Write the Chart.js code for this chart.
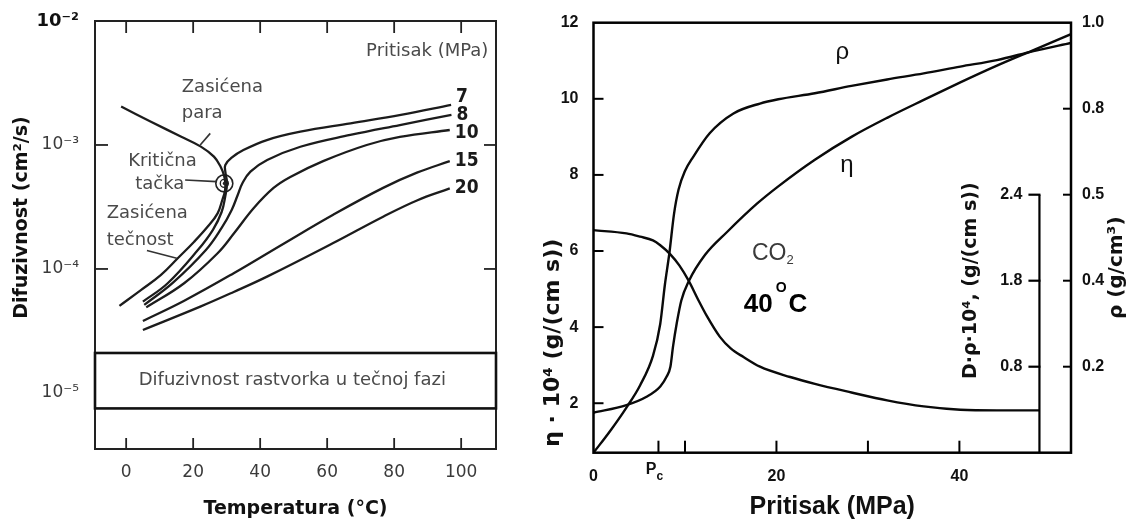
<!DOCTYPE html>
<html><head><meta charset="utf-8">
<title>Difuzivnost</title>
<script src="https://cdn.jsdelivr.net/npm/chart.js@4/dist/chart.umd.min.js"></script>
<style>
html,body{margin:0;padding:0;background:#fff;}
body{width:1130px;height:525px;position:relative;overflow:hidden;}
canvas{position:absolute;top:0;}
#left{left:0;}
#right{left:535px;}
</style></head>
<body>
<canvas id="left" width="530" height="525"></canvas>
<canvas id="right" width="595" height="525"></canvas>
<script>
// ================= LEFT PANEL DATA =================
const T_TICKS = [0, 20, 40, 60, 80, 100];
const D_TICKS = [1e-5, 1e-4, 1e-3, 1e-2];
const D_TICK_LABELS = ['10⁻⁵', '10⁻⁴', '10⁻³', '10⁻²'];
const D_INNER_TICKS = [1e-4, 1e-3];

// saturation curve (vapour branch -> critical point -> liquid branch)
const SAT_T = [-1.5, 7.4, 16.3, 22.3, 26.2, 28.2, 29.2, 29.6, 29.5, 28.7, 27.3, 24.3, 20.3, 15.4, 10.4, 4.5, -2.0];
const SAT_D = [2.04e-3, 1.54e-3, 1.17e-3, 9.7e-4, 8.05e-4, 6.68e-4, 5.7e-4, 4.9e-4, 4.25e-4, 3.6e-4, 2.81e-4, 2.19e-4, 1.66e-4, 1.22e-4, 8.95e-5, 6.78e-5, 5.04e-5];

// isobars (MPa)
const P7_T  = [5.0, 12.4, 21.4, 25.9, 28.5, 29.6, 30.1, 29.6, 29.6, 31.5, 35.0, 42.0, 52.0, 67.0, 82.0, 97.0];
const P7_D  = [5.45e-5, 7.67e-5, 1.42e-4, 2.07e-4, 2.88e-4, 3.88e-4, 4.94e-4, 6.1e-4, 6.9e-4, 7.9e-4, 9.1e-4, 1.096e-3, 1.279e-3, 1.496e-3, 1.746e-3, 2.104e-3];
const P8_T  = [5.4, 13.9, 23.8, 28.5, 31.5, 33.3, 34.7, 37.1, 42.1, 52.0, 66.9, 81.7, 97.1];
const P8_D  = [5.13e-5, 7.71e-5, 1.42e-4, 2.14e-4, 2.99e-4, 3.95e-4, 4.91e-4, 6.10e-4, 7.57e-4, 9.68e-4, 1.205e-3, 1.449e-3, 1.746e-3];
const P10_T = [6.0, 17.3, 27.3, 32.2, 38.1, 44.0, 49.0, 58.8, 71.8, 81.7, 96.6];
const P10_D = [4.9e-5, 7.67e-5, 1.34e-4, 1.94e-4, 3.10e-4, 4.50e-4, 5.52e-4, 7.41e-4, 1.0e-3, 1.161e-3, 1.321e-3];
const P15_T = [5.0, 17.2, 32.1, 47.0, 61.8, 76.7, 86.8, 96.6];
const P15_D = [3.81e-5, 5.52e-5, 9.24e-5, 1.60e-4, 2.74e-4, 4.51e-4, 5.98e-4, 7.41e-4];
const P20_T = [5.0, 22.3, 32.1, 42.2, 61.8, 76.7, 86.8, 96.6];
const P20_D = [3.22e-5, 4.99e-5, 6.52e-5, 8.71e-5, 1.618e-4, 2.64e-4, 3.57e-4, 4.46e-4];
const ISOBAR_LABELS = ['7', '8', '10', '15', '20'];

const CRIT_T = 29.3, CRIT_D = 4.9e-4;          // critical point
const LIQ_BAND = [7.5e-6, 2.1e-5];              // solute diffusivity in liquid phase

// ================= RIGHT PANEL DATA =================
const P_TICKS = [0, 20, 40];
const P_TICK_LABELS = ['0', '20', '40'];
const P_MINOR_TICKS = [7.1, 10, 20, 30, 40];
const PC = 7.1;
const ETA_TICKS = [2, 4, 6, 8, 10, 12];
const ETA_INNER_TICKS = [2, 4, 6, 8, 10];
const RHO_TICKS = [0.2, 0.4, 0.6, 0.8, 1.0];
const RHO_TICK_LABELS = ['0.2', '0.4', '0.5', '0.8', '1.0'];
const RHO_INNER_TICKS = [0.2, 0.4, 0.6, 0.8];
const DRHO_TICKS = [0.8, 1.6, 2.4];
const DRHO_TICK_LABELS = ['0.8', '1.8', '2.4'];
const DRHO_AXIS_P = 48.75;

const RHO_P = [0, 1.8, 3.6, 5.1, 6.5, 7.3, 7.8, 8.3, 8.8, 9.3, 10.0, 10.9, 12.7, 15.3, 18.2, 20.2, 24.2, 28.2, 32.1, 36.1, 40.1, 44.1, 48.1, 52.2];
const RHO_V = [0.0, 0.05, 0.105, 0.157, 0.225, 0.300, 0.390, 0.465, 0.555, 0.612, 0.655, 0.688, 0.743, 0.789, 0.812, 0.822, 0.836, 0.853, 0.868, 0.882, 0.898, 0.913, 0.934, 0.953];
const ETA_P = [0, 3.6, 5.8, 7.3, 8.0, 8.4, 8.7, 9.1, 9.6, 10.4, 12.2, 14.6, 17.9, 20.2, 24.2, 28.2, 32.1, 36.1, 40.1, 44.1, 48.1, 52.2];
const ETA_V = [1.75, 1.95, 2.17, 2.44, 2.70, 2.95, 3.5, 4.1, 4.7, 5.2, 5.9, 6.5, 7.25, 7.7, 8.4, 9.0, 9.5, 9.97, 10.43, 10.87, 11.28, 11.70];
const DRHO_P = [0, 3.6, 5.1, 6.5, 7.3, 8.4, 9.4, 10.4, 11.4, 12.4, 13.8, 15.0, 16.4, 18.2, 21.5, 24.2, 28.2, 32.1, 36.1, 40.1, 44.1, 48.75];
const DRHO_V = [2.07, 2.04, 2.01, 1.975, 1.93, 1.845, 1.74, 1.60, 1.43, 1.27, 1.08, 0.97, 0.89, 0.80, 0.704, 0.64, 0.56, 0.487, 0.431, 0.40, 0.394, 0.394];

// ================= helpers / styles =================
const mk = (xs, ys) => xs.map((x, i) => ({x: x, y: ys[i]}));
function seg(ctx, x1, y1, x2, y2) { ctx.beginPath(); ctx.moveTo(x1, y1); ctx.lineTo(x2, y2); ctx.stroke(); }
function txt(ctx, s, x, y, font, color, align, base) {
  ctx.font = font; ctx.fillStyle = color; ctx.textAlign = align || 'left'; ctx.textBaseline = base || 'middle';
  ctx.fillText(s, x, y);
}
function rtxt(ctx, s, x, y, font, color, align) {
  ctx.save(); ctx.translate(x, y); ctx.rotate(-Math.PI / 2);
  txt(ctx, s, 0, 0, font, color, align || 'center', 'middle');
  ctx.restore();
}

const ISOBARS = [[P7_T, P7_D], [P8_T, P8_D], [P10_T, P10_D], [P15_T, P15_D], [P20_T, P20_D]];
const ISOBAR_LABEL_DY = [-8, 0, 3, 0, 0];

const LEFT_NOTES = [
  {text: 'Pritisak (MPa)', x: 108.1, y: 5.66e-3, align: 'right'},
  {text: 'Zasićena', x: 16.6, y: 2.92e-3, align: 'left'},
  {text: 'para', x: 16.6, y: 1.80e-3, align: 'left'},
  {text: 'Kritična', x: 0.6, y: 7.33e-4, align: 'left'},
  {text: 'tačka', x: 2.7, y: 4.84e-4, align: 'left'},
  {text: 'Zasićena', x: -5.8, y: 2.81e-4, align: 'left'},
  {text: 'tečnost', x: -5.8, y: 1.71e-4, align: 'left'}
];
const LEFT_LEADERS = [
  [17.6, 5.22e-4, 27.0, 5.06e-4],
  [22.1, 1.0e-3, 25.1, 1.24e-3],
  [6.2, 1.41e-4, 15.1, 1.22e-4]
];

const leftDeco = {
  id: 'leftDeco',
  afterDraw(chart) {
    const ctx = chart.ctx, a = chart.chartArea, xs = chart.scales.x, ys = chart.scales.y;
    ctx.save();
    ctx.strokeStyle = '#222'; ctx.lineWidth = 2;
    ctx.strokeRect(a.left, a.top, a.right - a.left, a.bottom - a.top);
    ctx.lineWidth = 1.8;
    T_TICKS.forEach(v => { const p = xs.getPixelForValue(v); seg(ctx, p, a.bottom, p, a.bottom - 11); seg(ctx, p, a.top, p, a.top + 12); });
    D_INNER_TICKS.forEach(v => { const p = ys.getPixelForValue(v); seg(ctx, a.left, p, a.left + 13, p); seg(ctx, a.right, p, a.right - 12, p); });
    // liquid-phase band
    const b1 = ys.getPixelForValue(LIQ_BAND[1]), b2 = ys.getPixelForValue(LIQ_BAND[0]);
    ctx.strokeStyle = '#111'; ctx.lineWidth = 2.6;
    ctx.strokeRect(a.left, b1, a.right - a.left, b2 - b1);
    txt(ctx, 'Difuzivnost rastvorka u tečnoj fazi', xs.getPixelForValue(49.6), (b1 + b2) / 2, '18px "DejaVu Sans"', '#4a4a4a', 'center');
    // critical point inner ring
    const cx = xs.getPixelForValue(CRIT_T), cy = ys.getPixelForValue(CRIT_D);
    ctx.strokeStyle = '#222'; ctx.lineWidth = 1.4;
    ctx.beginPath(); ctx.arc(cx, cy, 4, 0, Math.PI * 2); ctx.stroke();
    ctx.fillStyle = '#222'; ctx.beginPath(); ctx.arc(cx, cy, 1.6, 0, Math.PI * 2); ctx.fill();
    // notes
    LEFT_NOTES.forEach(n => txt(ctx, n.text, xs.getPixelForValue(n.x), ys.getPixelForValue(n.y), '18px "DejaVu Sans"', '#4a4a4a', n.align));
    ctx.strokeStyle = '#333'; ctx.lineWidth = 1.6;
    LEFT_LEADERS.forEach(l => seg(ctx, xs.getPixelForValue(l[0]), ys.getPixelForValue(l[1]), xs.getPixelForValue(l[2]), ys.getPixelForValue(l[3])));
    // isobar labels
    ISOBARS.forEach((s, i) => {
      const n = s[0].length - 1;
      txt(ctx, ISOBAR_LABELS[i], xs.getPixelForValue(s[0][n]) + 5, ys.getPixelForValue(s[1][n]) + ISOBAR_LABEL_DY[i],
          'bold 19px "DejaVu Sans Condensed", "DejaVu Sans"', '#1a1a1a', 'left');
    });
    // y title
    rtxt(ctx, 'Difuzivnost (cm²/s)', a.left - 73, ys.getPixelForValue(2.6e-4), 'bold 19px "DejaVu Sans"', '#111');
    ctx.restore();
  }
};

const lStyle = {showLine: true, pointRadius: 0, borderColor: '#1c1c1c', borderWidth: 2.3, fill: false, tension: 0.4};

new Chart(document.getElementById('left'), {
  type: 'scatter',
  data: {
    datasets: [
      Object.assign({data: mk(SAT_T, SAT_D)}, lStyle),
      ...ISOBARS.map(s => Object.assign({data: mk(s[0], s[1])}, lStyle)),
      {data: [{x: CRIT_T, y: CRIT_D}], showLine: false, pointRadius: 8.5, pointBorderWidth: 1.6,
       pointBorderColor: '#222', pointBackgroundColor: 'rgba(0,0,0,0)'}
    ]
  },
  options: {
    responsive: false, animation: false, devicePixelRatio: 1, events: [],
    layout: {padding: {left: 0, right: 34, top: 21, bottom: 0}},
    plugins: {legend: {display: false}, tooltip: {enabled: false}},
    scales: {
      x: {
        type: 'linear', min: -9.3, max: 110.4,
        grid: {display: false}, border: {display: false},
        afterBuildTicks: s => { s.ticks = T_TICKS.map(v => ({value: v})); },
        afterFit: s => { s.height = 76; },
        ticks: {padding: 5, autoSkip: false, maxRotation: 0, font: {family: 'DejaVu Sans', size: 17}, color: '#3a3a3a',
                callback: v => String(v)},
        title: {display: true, text: 'Temperatura (°C)', font: {family: 'DejaVu Sans', size: 19, weight: 'bold'},
                color: '#111', padding: {top: 0, bottom: 5}}
      },
      y: {
        type: 'logarithmic', min: 3.53e-6, max: 1e-2,
        grid: {display: false}, border: {display: false},
        afterBuildTicks: s => { s.ticks = D_TICKS.map(v => ({value: v})); },
        afterFit: s => { s.width = 95; },
        ticks: {padding: 8, autoSkip: false,
                font: c => (c.tick && c.tick.value === 1e-2) ? {family: 'DejaVu Sans', size: 18, weight: 'bold'} : {family: 'DejaVu Sans', size: 17},
                color: c => (c.tick && c.tick.value === 1e-2) ? '#111' : '#3a3a3a',
                callback: v => D_TICK_LABELS[D_TICKS.indexOf(v)]}
      }
    }
  },
  plugins: [leftDeco]
});

// ================= RIGHT PANEL =================
const RIGHT_NOTES_FONT = '24px "Liberation Sans"';
const rightDeco = {
  id: 'rightDeco',
  afterDraw(chart) {
    const ctx = chart.ctx, a = chart.chartArea, S = chart.scales;
    const xs = S.x, ye = S.y, yr = S.yRho, yd = S.yD;
    ctx.save();
    ctx.strokeStyle = '#000'; ctx.lineWidth = 2.5;
    ctx.strokeRect(a.left, a.top, a.right - a.left, a.bottom - a.top);
    ctx.lineWidth = 2;
    P_MINOR_TICKS.forEach(v => { const p = xs.getPixelForValue(v); seg(ctx, p, a.bottom, p, a.bottom - 12); });
    ETA_INNER_TICKS.forEach(v => { const p = ye.getPixelForValue(v); seg(ctx, a.left, p, a.left + 10, p); });
    RHO_INNER_TICKS.forEach(v => { const p = yr.getPixelForValue(v); seg(ctx, a.right, p, a.right - 8, p); });
    // Pc label
    const pcx = xs.getPixelForValue(PC);
    txt(ctx, 'P', pcx - 2, a.bottom + 21, 'bold 16px "Liberation Sans"', '#111', 'right', 'alphabetic');
    txt(ctx, 'c', pcx - 2, a.bottom + 27, 'bold 12px "Liberation Sans"', '#111', 'left', 'alphabetic');
    // D·rho inner axis
    const ax = xs.getPixelForValue(DRHO_AXIS_P);
    const yTop = yd.getPixelForValue(DRHO_TICKS[DRHO_TICKS.length - 1]);
    ctx.lineWidth = 2.2;
    seg(ctx, ax, yTop, ax, a.bottom);
    DRHO_TICKS.forEach((v, i) => {
      const p = yd.getPixelForValue(v);
      seg(ctx, ax - 11, p, ax + 1, p);
      txt(ctx, DRHO_TICK_LABELS[i], ax - 17, p, 'bold 16px "Liberation Sans"', '#111', 'right');
    });
    // axis titles
    rtxt(ctx, 'D·ρ·10⁴, (g/(cm s))', ax - 68, yd.getPixelForValue(1.6), 'bold 19px "DejaVu Sans"', '#111');
    rtxt(ctx, 'ρ (g/cm³)', a.right + 46, yr.getPixelForValue(0.43), 'bold 20px "DejaVu Sans"', '#111');
    rtxt(ctx, 'η · 10⁴ (g/(cm s))', a.left - 40, a.bottom - 6, 'bold 22px "DejaVu Sans"', '#111', 'left');
    // curve labels
    txt(ctx, 'ρ', xs.getPixelForValue(27.2), ye.getPixelForValue(11.05), RIGHT_NOTES_FONT, '#111', 'center', 'alphabetic');
    txt(ctx, 'η', xs.getPixelForValue(27.7), ye.getPixelForValue(8.08), RIGHT_NOTES_FONT, '#111', 'center', 'alphabetic');
    // CO2
    let cx = xs.getPixelForValue(19.6), by = ye.getPixelForValue(5.77);
    ctx.font = '23px "Liberation Sans"';
    const wCO = ctx.measureText('CO').width;
    ctx.font = '13px "Liberation Sans"';
    const w2 = ctx.measureText('2').width;
    let sx = cx - (wCO + w2) / 2;
    txt(ctx, 'CO', sx, by, '23px "Liberation Sans"', '#3a3a3a', 'left', 'alphabetic');
    txt(ctx, '2', sx + wCO, by + 4, '13px "Liberation Sans"', '#3a3a3a', 'left', 'alphabetic');
    // 40 °C
    cx = xs.getPixelForValue(19.9); by = ye.getPixelForValue(4.41);
    ctx.font = 'bold 26px "Liberation Sans"';
    const w40 = ctx.measureText('40').width, wC = ctx.measureText('C').width;
    ctx.font = 'bold 14px "Liberation Sans"';
    const wO = ctx.measureText('O').width;
    sx = cx - (w40 + 3 + wO + 2 + wC) / 2;
    txt(ctx, '40', sx, by, 'bold 26px "Liberation Sans"', '#000', 'left', 'alphabetic');
    txt(ctx, 'O', sx + w40 + 3, by - 20, 'bold 14px "Liberation Sans"', '#000', 'left', 'alphabetic');
    txt(ctx, 'C', sx + w40 + 3 + wO + 2, by, 'bold 26px "Liberation Sans"', '#000', 'left', 'alphabetic');
    ctx.restore();
  }
};

const rStyle = {showLine: true, pointRadius: 0, borderColor: '#0a0a0a', borderWidth: 2.4, fill: false, cubicInterpolationMode: 'monotone'};
const tickFontR = {family: 'Liberation Sans', size: 16, weight: 'bold'};

new Chart(document.getElementById('right'), {
  type: 'scatter',
  data: {
    datasets: [
      Object.assign({data: mk(RHO_P, RHO_V), yAxisID: 'yRho'}, rStyle),
      Object.assign({data: mk(ETA_P, ETA_V), yAxisID: 'y'}, rStyle),
      Object.assign({data: mk(DRHO_P, DRHO_V), yAxisID: 'yD'}, rStyle)
    ]
  },
  options: {
    responsive: false, animation: false, devicePixelRatio: 1, events: [],
    layout: {padding: {left: 0, right: 0, top: 22.7, bottom: 0}},
    plugins: {legend: {display: false}, tooltip: {enabled: false}},
    scales: {
      x: {
        type: 'linear', min: 0, max: 52.2,
        grid: {display: false}, border: {display: false},
        afterBuildTicks: s => { s.ticks = P_TICKS.map(v => ({value: v})); },
        afterFit: s => { s.height = 72.3; },
        ticks: {padding: 6, autoSkip: false, maxRotation: 0, font: tickFontR, color: '#111',
                callback: v => P_TICK_LABELS[P_TICKS.indexOf(v)]},
        title: {display: true, text: 'Pritisak (MPa)', font: {family: 'Liberation Sans', size: 25, weight: 'bold'},
                color: '#111', padding: {top: 0, bottom: 3}}
      },
      y: {
        type: 'linear', position: 'left', min: 0.7, max: 12,
        grid: {display: false}, border: {display: false},
        afterBuildTicks: s => { s.ticks = ETA_TICKS.map(v => ({value: v})); },
        afterFit: s => { s.width = 58.5; },
        ticks: {padding: 7, autoSkip: false, font: tickFontR, color: '#111', callback: v => String(v)}
      },
      yRho: {
        type: 'linear', position: 'right', min: 0, max: 1.0,
        grid: {display: false}, border: {display: false},
        afterBuildTicks: s => { s.ticks = RHO_TICKS.map(v => ({value: v})); },
        afterFit: s => { s.width = 59; },
        ticks: {padding: 3, autoSkip: false, font: tickFontR, color: '#111',
                callback: v => RHO_TICK_LABELS[RHO_TICKS.indexOf(v)]}
      },
      yD: {
        type: 'linear', position: 'right', min: 0, max: 4.0, display: false
      }
    }
  },
  plugins: [rightDeco]
});
</script>
</body></html>
